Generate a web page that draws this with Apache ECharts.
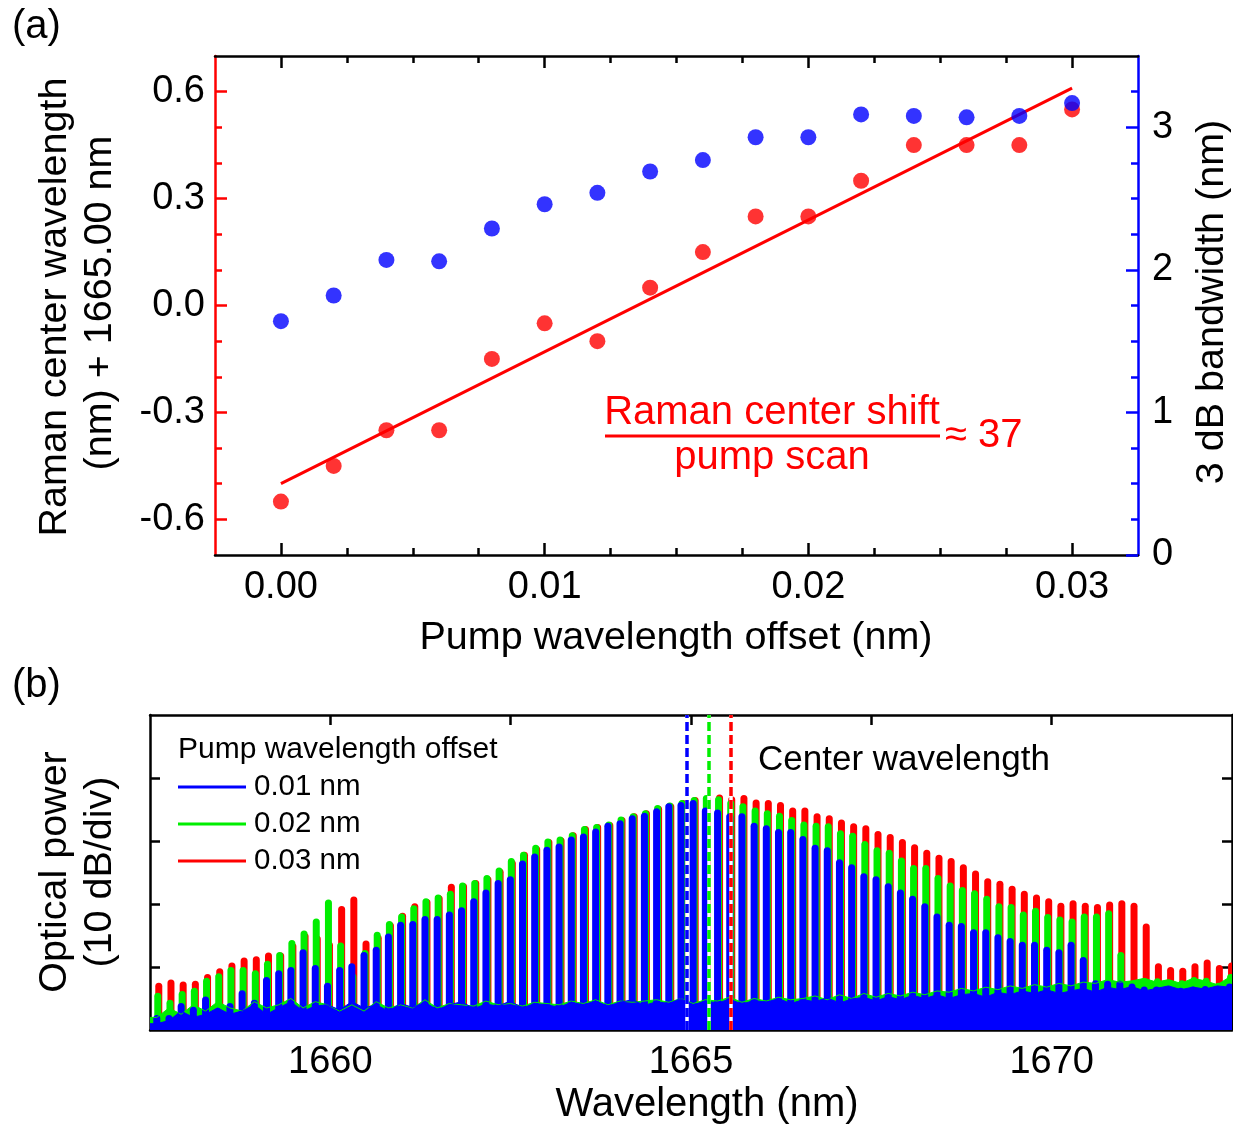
<!DOCTYPE html>
<html><head><meta charset="utf-8">
<script src="https://cdn.jsdelivr.net/npm/echarts@6/dist/echarts.min.js"></script>
<style>html,body{margin:0;padding:0;background:#fff}#c{width:1233px;height:1129px}</style>
</head><body><div id="c"></div>
<script>
const FONT = '"Liberation Sans", Arial, Helvetica, sans-serif';
const RED = '#ff0000', BLUE = '#0000ff', GREEN = '#00ee00';

// ---------- Panel (a) data ----------
const pumpOffset = [0, 0.002, 0.004, 0.006, 0.008, 0.010, 0.012, 0.014, 0.016, 0.018, 0.020, 0.022, 0.024, 0.026, 0.028, 0.030];
const ramanShift = [-0.55, -0.45, -0.35, -0.35, -0.15, -0.05, -0.10, 0.05, 0.15, 0.25, 0.25, 0.35, 0.45, 0.45, 0.45, 0.55];
const bandwidth = [1.64, 1.82, 2.07, 2.06, 2.29, 2.46, 2.54, 2.69, 2.77, 2.93, 2.93, 3.09, 3.08, 3.07, 3.08, 3.17];
const fitOffset = [0, 0.030];
const fitShift = [-0.50, 0.61];
const xTicksA = [0, 0.01, 0.02, 0.03];
const xMinorA = [0.0025, 0.005, 0.0075, 0.0125, 0.015, 0.0175, 0.0225, 0.025, 0.0275];
const yTicksL = [-0.6, -0.3, 0, 0.3, 0.6];
const yMinorL = [-0.5, -0.4, -0.2, -0.1, 0.1, 0.2, 0.4, 0.5];
const yTicksR = [0, 1, 2, 3];
const yMinorR = [0.25, 0.5, 0.75, 1.25, 1.5, 1.75, 2.25, 2.5, 2.75, 3.25];

// ---------- Panel (b) data ----------
const combWl = [
1657.594,1657.763,1657.932,1658.101,1658.270,1658.439,1658.608,1658.777,1658.946,1659.115,
1659.284,1659.453,1659.622,1659.791,1659.960,1660.129,1660.298,1660.467,1660.636,1660.805,
1660.974,1661.143,1661.312,1661.481,1661.650,1661.819,1661.988,1662.157,1662.326,1662.495,
1662.664,1662.833,1663.002,1663.171,1663.340,1663.509,1663.678,1663.847,1664.016,1664.185,
1664.354,1664.523,1664.692,1664.861,1665.030,1665.199,1665.368,1665.537,1665.706,1665.875,
1666.044,1666.213,1666.382,1666.551,1666.720,1666.889,1667.058,1667.227,1667.396,1667.565,
1667.734,1667.903,1668.072,1668.241,1668.410,1668.579,1668.748,1668.917,1669.086,1669.255,
1669.424,1669.593,1669.762,1669.931,1670.100,1670.269,1670.438,1670.607,1670.776,1670.945,
1671.114,1671.283,1671.452,1671.621,1671.790,1671.959,1672.128,1672.297,1672.466];
const peakRed = [
7.5,8.0,7.7,7.8,8.9,9.8,10.7,11.5,11.7,12.3,
12.3,13.8,15.4,15.0,14.0,19.7,21.2,14.2,15.1,17.1,
18.6,20.1,20.8,21.4,23.2,23.3,23.8,24.4,25.6,27.0,
28.3,29.2,30.3,30.6,31.4,32.4,32.7,33.0,33.8,34.4,
34.9,35.6,36.0,36.5,37.0,37.1,37.4,37.1,37.3,36.6,
36.5,36.2,35.3,35.3,34.4,34.1,33.4,32.8,32.5,31.6,
31.1,30.3,29.5,28.6,27.8,27.3,26.3,25.3,24.1,23.7,
22.9,22.1,21.5,20.9,20.2,20.6,20.2,20.0,20.4,20.6,
20.2,16.9,10.6,10.0,9.9,10.6,11.2,10.3,10.7];
const peakGreen = [
5.9,4.8,6.2,6.7,8.3,9.0,10.0,10.0,9.5,11.0,
12.4,14.3,15.8,17.7,20.7,13.9,9.0,12.7,15.6,17.3,
18.5,19.8,20.9,21.5,22.1,23.4,23.8,24.6,25.8,27.3,
28.3,29.4,30.4,30.7,31.4,32.4,32.7,33.1,33.9,34.4,
34.9,35.7,36.1,36.5,37.0,37.3,37.1,36.5,36.0,35.3,
34.9,34.5,33.8,33.1,32.9,32.8,31.7,31.3,30.0,29.0,
28.6,27.4,26.2,26.2,24.6,23.4,22.7,22.2,21.3,20.1,
20.0,18.8,19.4,18.4,18.0,17.7,18.5,18.5,19.0,12.4,
7.8,8.2,8.2,7.9,7.9,8.4,8.3,7.5,8.9];
const peakBlue = [
2.4,2.4,4.3,3.7,5.3,3.5,4.3,6.3,4.8,8.4,
9.5,10.0,12.8,10.3,7.5,10.0,10.6,12.4,13.2,15.3,
17.2,17.3,18.1,18.1,18.8,19.5,20.9,22.3,23.8,24.4,
26.9,28.0,29.1,29.6,30.7,31.2,32.0,32.9,33.3,34.1,
34.5,35.2,36.0,36.2,36.5,35.3,35.0,34.4,34.4,32.9,
32.5,31.9,31.9,30.8,29.4,29.0,27.1,26.3,24.9,24.4,
23.3,22.3,21.3,20.1,18.5,17.2,17.0,16.0,16.0,15.2,
14.6,14.0,14.0,13.2,12.8,14.0,11.6,7.9,7.8,7.8,
7.4,6.9,6.9,6.7,6.7,6.9,7.0,6.9,7.4];
const floorGreen = [
2.0,3.5,2.5,4.0,3.0,4.5,3.5,3.0,4.5,3.5,
4.0,5.0,3.5,4.5,4.0,3.0,4.0,3.0,4.5,3.5,
4.0,3.5,4.8,3.5,4.2,4.0,3.8,4.6,4.0,4.2,
3.8,4.4,4.2,4.0,4.6,4.2,4.8,4.0,4.6,4.4,
4.6,4.8,4.4,5.0,4.2,4.8,4.6,5.2,4.4,5.0,
4.6,5.2,4.8,5.0,5.4,4.8,5.6,5.0,5.8,5.2,
5.8,5.4,6.0,5.6,6.2,6.0,6.6,6.2,6.8,6.4,
7.0,6.6,7.2,6.8,7.4,7.0,7.6,7.4,8.0,7.6,
7.8,8.2,7.6,8.0,7.4,8.2,7.8,7.2,8.4];
const floorBlue = [
1.0,1.5,3.0,2.0,2.5,3.5,2.5,3.0,4.0,2.5,
3.5,4.5,3.0,3.8,4.0,3.2,4.5,3.5,4.0,3.0,
4.2,3.6,4.4,3.2,4.0,4.5,3.4,4.1,3.8,4.6,
3.5,4.2,4.0,3.6,4.4,4.0,4.6,3.8,4.4,4.8,
3.9,4.5,4.2,5.0,4.0,4.6,4.3,4.9,4.1,4.7,
4.4,5.0,4.2,4.8,4.5,5.1,4.3,4.9,5.2,4.6,
5.3,4.8,5.5,5.0,5.6,5.0,5.6,5.8,5.2,6.0,
5.6,6.2,5.8,6.4,5.8,6.2,6.6,6.0,6.8,6.4,
6.9,6.2,6.6,7.0,6.4,6.8,6.5,7.0,6.8];
const centerWl = [1664.94, 1665.25, 1665.55];
const xTicksB = [1660, 1662.5, 1665, 1667.5, 1670];
const xLabelsB = [1660, 1665, 1670];
const yTicksB = [10, 20, 30, 40];
const X_MIN_B = 1657.5, X_MAX_B = 1672.5;

// ---------- helpers ----------
function tickAxis(gridIndex, min, max, position, color, ticks, len, labelCfg, showLine) {
  return {
    type: 'value', gridIndex, min, max, position,
    splitLine: { show: false },
    axisLine: { show: showLine, onZero: false, lineStyle: { color, width: 2.5 } },
    axisTick: { show: true, inside: true, length: len, customValues: ticks, lineStyle: { color, width: 2.5 } },
    axisLabel: labelCfg ? Object.assign({ show: true, fontSize: 38, fontFamily: FONT, color: '#000' }, labelCfg) : { show: false }
  };
}

const chart = echarts.init(document.getElementById('c'), null, { renderer: 'canvas' });

function barRenderer(dx) {
  return function (params, api) {
    const top = api.coord([api.value(0), api.value(1)]);
    const bot = api.coord([api.value(0), 0]);
    const w = 7;
    return {
      type: 'rect',
      shape: { x: top[0] - w / 2 + dx, y: top[1], width: w, height: bot[1] - top[1], r: [3.5, 3.5, 0, 0] },
      style: { fill: api.visual('color') }
    };
  };
}

const txt = (x, y, text, o) => Object.assign({
  type: 'text', x, y, z: 100,
  style: Object.assign({ text, fontSize: 39.5, fontFamily: FONT, fill: '#000', textAlign: 'center', textVerticalAlign: 'middle' }, (o && o.style) || {})
}, o && o.rotation !== undefined ? { rotation: o.rotation } : {});

const option = {
  animation: false,
  backgroundColor: '#fff',
  grid: [
    { left: 215, top: 56, width: 923, height: 499, containLabel: false, outerBoundsMode: 'none' },
    { left: 150, top: 715, width: 1082, height: 315, containLabel: false, outerBoundsMode: 'none' }
  ],
  xAxis: [
    tickAxis(0, -0.0025, 0.0325, 'bottom', '#000', xTicksA, 12, { customValues: xTicksA, formatter: v => v.toFixed(2), margin: 14 }, true),
    tickAxis(0, -0.0025, 0.0325, 'bottom', '#000', xMinorA, 7, null, false),
    tickAxis(0, -0.0025, 0.0325, 'top', '#000', xTicksA, 12, null, true),
    tickAxis(0, -0.0025, 0.0325, 'top', '#000', xMinorA, 7, null, false),
    tickAxis(1, X_MIN_B, X_MAX_B, 'bottom', '#000', xTicksB, 10, { customValues: xLabelsB, formatter: v => String(Math.round(v)), margin: 14 }, true),
    tickAxis(1, X_MIN_B, X_MAX_B, 'top', '#000', xTicksB, 10, null, true)
  ],
  yAxis: [
    tickAxis(0, -0.7, 0.7, 'left', RED, yTicksL, 12, { customValues: yTicksL, formatter: v => v.toFixed(1), margin: 10 }, true),
    tickAxis(0, -0.7, 0.7, 'left', RED, yMinorL, 7, null, false),
    tickAxis(0, 0, 3.5, 'right', BLUE, yTicksR, 12, { customValues: yTicksR, formatter: v => String(v), margin: 14 }, true),
    tickAxis(0, 0, 3.5, 'right', BLUE, yMinorR, 7, null, false),
    tickAxis(1, 0, 50, 'left', '#000', yTicksB, 10, null, true),
    tickAxis(1, 0, 50, 'right', '#000', yTicksB, 10, null, true)
  ],
  legend: {
    data: [{ name: '0.01 nm' }, { name: '0.02 nm' }, { name: '0.03 nm' }],
    orient: 'vertical', left: 178, top: 772, icon: 'rect', itemWidth: 68, itemHeight: 3, itemGap: 7,
    selectedMode: false, padding: 0,
    textStyle: { fontSize: 29.5, fontFamily: FONT, color: '#000', lineHeight: 29, padding: [0, 0, 0, 3] }
  },
  series: [
    { name: 'fit', type: 'line', xAxisIndex: 0, yAxisIndex: 0, data: fitOffset.map((x, i) => [x, fitShift[i]]),
      symbol: 'none', lineStyle: { color: RED, width: 3 }, z: 3 },
    { name: 'Raman center', type: 'scatter', xAxisIndex: 0, yAxisIndex: 0, data: pumpOffset.map((x, i) => [x, ramanShift[i]]),
      symbolSize: 16, itemStyle: { color: RED }, z: 4 },
    { name: '3 dB bandwidth', type: 'scatter', xAxisIndex: 0, yAxisIndex: 2, data: pumpOffset.map((x, i) => [x, bandwidth[i]]),
      symbolSize: 16, itemStyle: { color: BLUE }, z: 5 },

    { name: '0.03 nm', type: 'custom', xAxisIndex: 4, yAxisIndex: 4, clip: true, color: RED, itemStyle: { color: RED },
      renderItem: barRenderer(2), encode: { x: 0, y: 1 }, data: combWl.map((w, i) => [w, peakRed[i]]), z: 2 },
    { name: '0.02 nm', type: 'custom', xAxisIndex: 4, yAxisIndex: 4, clip: true, color: GREEN, itemStyle: { color: GREEN },
      renderItem: barRenderer(1), encode: { x: 0, y: 1 }, data: combWl.map((w, i) => [w, peakGreen[i]]), z: 2 },
    { name: 'green floor', type: 'line', xAxisIndex: 4, yAxisIndex: 4, symbol: 'none',
      data: [[X_MIN_B, floorGreen[0]]].concat(combWl.map((w, i) => [w, floorGreen[i]]), [[X_MAX_B, floorGreen[floorGreen.length - 1]]]),
      lineStyle: { color: GREEN, width: 1 }, areaStyle: { color: GREEN, opacity: 1 }, z: 2 },
    { name: '0.01 nm', type: 'custom', xAxisIndex: 4, yAxisIndex: 4, clip: true, color: BLUE, itemStyle: { color: BLUE },
      renderItem: barRenderer(0), encode: { x: 0, y: 1 }, data: combWl.map((w, i) => [w, peakBlue[i]]), z: 2 },
    { name: 'noise floor', type: 'line', xAxisIndex: 4, yAxisIndex: 4, symbol: 'none',
      data: [[X_MIN_B, floorBlue[0]]].concat(combWl.map((w, i) => [w, floorBlue[i]]), [[X_MAX_B, floorBlue[floorBlue.length - 1]]]),
      lineStyle: { color: BLUE, width: 1 }, areaStyle: { color: BLUE, opacity: 1 }, z: 2 },
    { name: 'center underlay', type: 'line', xAxisIndex: 4, yAxisIndex: 4, data: [], z: 6,
      markLine: { symbol: ['none', 'none'], silent: true, animation: false, label: { show: false },
        data: centerWl.map(c => ({ xAxis: c, lineStyle: { color: '#ffffff', width: 3.5, type: 'solid' } })) } },
    { name: 'center lines', type: 'line', xAxisIndex: 4, yAxisIndex: 4, data: [], z: 7,
      markLine: { symbol: ['none', 'none'], silent: true, animation: false, label: { show: false },
        data: centerWl.map((c, i) => ({ xAxis: c, lineStyle: { color: [BLUE, GREEN, RED][i], width: 3.5, type: [9, 4] } })) } }
  ],
  graphic: [
    txt(12, 27, '(a)', { style: { textAlign: 'left', fontSize: 40 } }),
    txt(12, 686, '(b)', { style: { textAlign: 'left', fontSize: 40 } }),
    txt(55, 307, 'Raman center wavelength', { rotation: Math.PI / 2 }),
    txt(100, 303, '(nm) + 1665.00 nm', { rotation: Math.PI / 2 }),
    txt(1212, 302, '3 dB bandwidth (nm)', { rotation: Math.PI / 2 }),
    txt(676, 638, 'Pump wavelength offset (nm)'),
    txt(772, 413, 'Raman center shift', { style: { fill: RED, fontSize: 40 } }),
    { type: 'line', z: 100, shape: { x1: 605, y1: 436, x2: 940, y2: 436 }, style: { stroke: RED, lineWidth: 3 } },
    txt(772, 458, 'pump scan', { style: { fill: RED, fontSize: 40 } }),
    txt(945, 436, '≈ 37', { style: { fill: RED, textAlign: 'left', fontSize: 40 } }),
    txt(55, 872, 'Optical power', { rotation: Math.PI / 2 }),
    txt(100, 872, '(10 dB/div)', { rotation: Math.PI / 2 }),
    txt(707, 1105, 'Wavelength (nm)', { style: { fontSize: 40 } }),
    txt(178, 750, 'Pump wavelength offset', { style: { fontSize: 30, textAlign: 'left' } }),
    txt(758, 760, 'Center wavelength', { style: { fontSize: 35, textAlign: 'left' } })
  ]
};
chart.setOption(option);
</script></body></html>
